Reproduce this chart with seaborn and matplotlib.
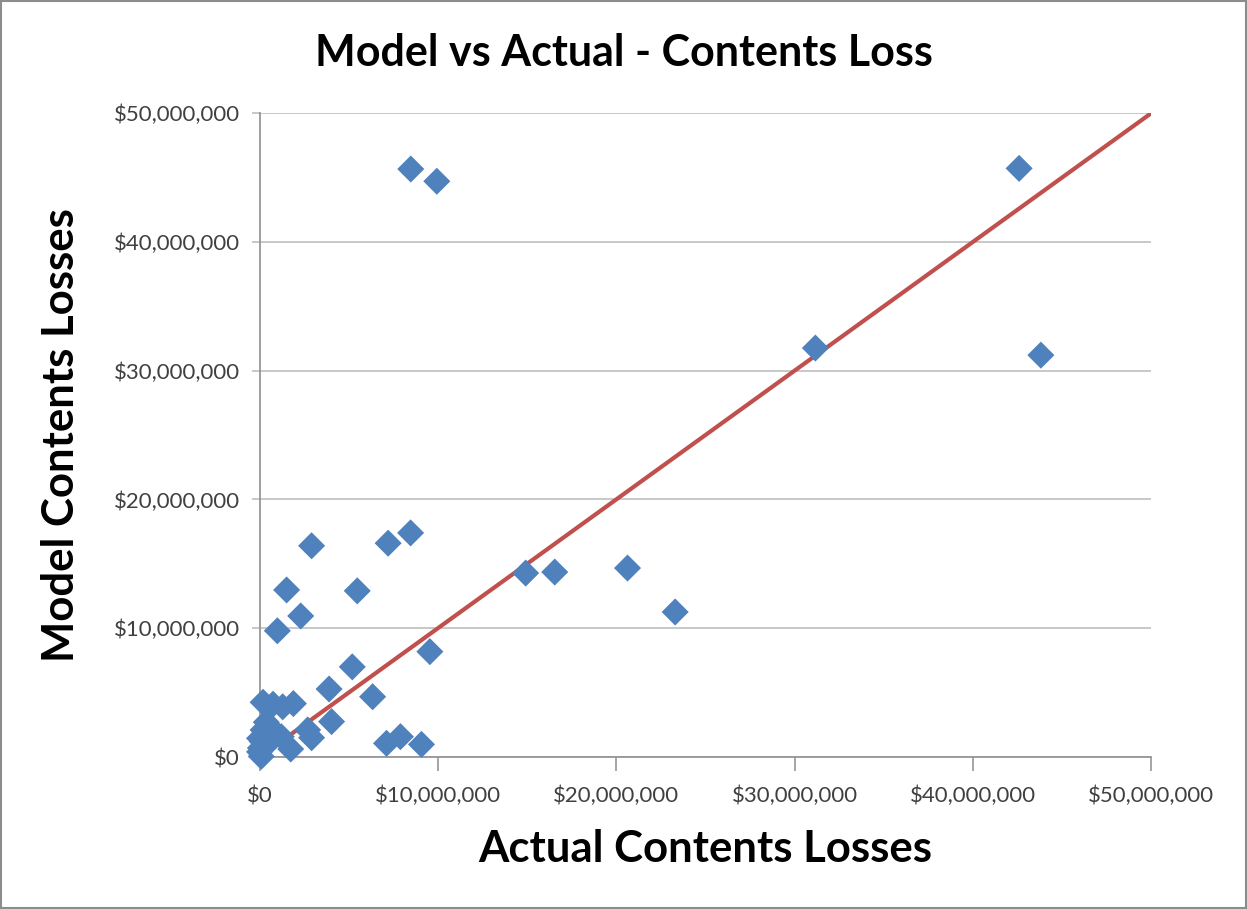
import matplotlib
matplotlib.use("Agg")
import matplotlib.pyplot as plt
from matplotlib.patches import Rectangle
from matplotlib.ticker import FuncFormatter
import seaborn as sns
import pandas as pd

# Loss pairs in millions of dollars
actual_losses_m = [8.48, 9.94, 42.58, 31.16, 43.8,
                   14.92, 16.55, 20.63, 23.3,
                   2.92, 7.21, 8.47,
                   1.52, 5.48, 2.31, 1.0,
                   9.55, 5.2, 3.9, 6.34, 4.04,
                   7.12, 7.9, 9.08,
                   0.2, 0.76, 1.3, 1.9,
                   2.7, 2.92, 1.75,
                   0.38, 0.2, 0.85, 0.0, 1.22, 0.05, 0.48, 0.1, 0.0, 0.3, 0.6, 0.15]
model_losses_m = [45.65, 44.7, 45.7, 31.75, 31.2,
                  14.28, 14.36, 14.67, 11.26,
                  16.4, 16.6, 17.4,
                  12.97, 12.9, 10.95, 9.8,
                  8.18, 7.0, 5.28, 4.68, 2.75,
                  1.06, 1.58, 0.98,
                  4.25, 4.1, 3.9, 4.15,
                  2.1, 1.5, 0.62,
                  2.7, 2.1, 1.96, 1.45, 1.58, 0.7, 1.06, 0.05, 0.4, 0.9, 1.5, 1.2]

# Reference line (model = actual)
line_x_m = [0, 50]
line_y_m = [0, 50]

axis_ticks_m = [0, 10, 20, 30, 40, 50]

df = pd.DataFrame({"actual": [v * 1e6 for v in actual_losses_m],
                   "model": [v * 1e6 for v in model_losses_m]})
line_df = pd.DataFrame({"x": [v * 1e6 for v in line_x_m],
                        "y": [v * 1e6 for v in line_y_m]})

sns.set_theme(style="white")
plt.rcParams["font.family"] = ["Lato", "DejaVu Sans"]

fig = plt.figure(figsize=(12.47, 9.09), dpi=100)
ax = fig.add_axes([0.2081, 0.1672, 0.7153, 0.7085])

sns.lineplot(data=line_df, x="x", y="y", ax=ax, color="#C0504D",
             linewidth=3.0, zorder=2)
sns.scatterplot(data=df, x="actual", y="model", ax=ax, marker="D",
                s=190, color="#4F81BD", edgecolor="none", linewidth=0,
                zorder=3, clip_on=False)

ax.set_xlim(0, 50e6)
ax.set_ylim(0, 50e6)
ax.set_xticks([v * 1e6 for v in axis_ticks_m])
ax.set_yticks([v * 1e6 for v in axis_ticks_m])

fmt = FuncFormatter(lambda v, _: "${:,.0f}".format(v))
ax.xaxis.set_major_formatter(fmt)
ax.yaxis.set_major_formatter(fmt)

ax.yaxis.grid(True, color="#BFBFBF", linewidth=1.2)
ax.xaxis.grid(False)
ax.set_axisbelow(True)

for side in ("top", "right"):
    ax.spines[side].set_visible(False)
for side in ("left", "bottom"):
    ax.spines[side].set_color("#969696")
    ax.spines[side].set_linewidth(1.3)

ax.tick_params(axis="x", which="major", bottom=True, length=10, width=1.2,
               color="#969696", pad=11, labelsize=16, labelcolor="#404040")
ax.tick_params(axis="y", which="major", left=True, length=6, width=1.2,
               color="#BFBFBF", pad=8, labelsize=16, labelcolor="#404040")

ax.set_xlabel("Actual Contents Losses", fontsize=31.5, fontweight="bold",
              color="black", labelpad=16)
ax.set_ylabel("Model Contents Losses", fontsize=31.5, fontweight="bold",
              color="black", labelpad=24)
fig.text(0.5, 0.942, "Model vs Actual - Contents Loss", ha="center",
         va="center", fontsize=31, fontweight="bold", color="black")

fig.patches.append(Rectangle((0.001, 0.001), 0.998, 0.998,
                             transform=fig.transFigure, fill=False,
                             edgecolor="#8C8C8C", linewidth=1.5))

fig.savefig("out.png", dpi=100)
